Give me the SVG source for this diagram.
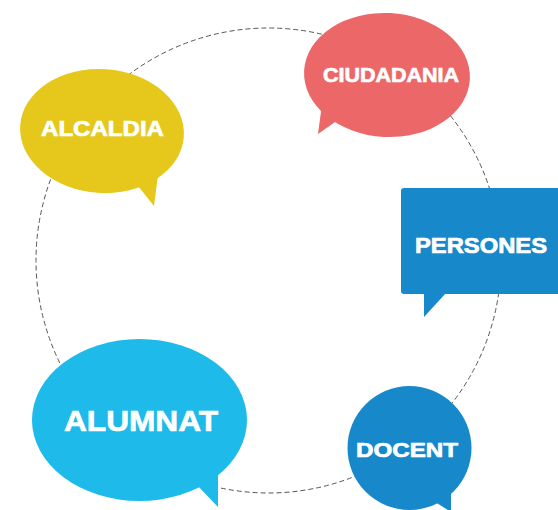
<svg xmlns="http://www.w3.org/2000/svg" width="558" height="510" viewBox="0 0 558 510">
<style>
.lbl{font-family:"Liberation Sans",Arial,sans-serif;font-weight:bold;fill:#ffffff;stroke:#ffffff;stroke-width:0.7;text-anchor:middle}
.ring{fill:none;stroke:#555555;stroke-width:1;stroke-dasharray:5 3}
</style>
<rect width="558" height="510" fill="#ffffff"/>
<g id="connectors">
<circle class="ring" cx="268.5" cy="260.5" r="232.5"/>
</g>
<g id="alcaldia">
<ellipse cx="102" cy="131" rx="82" ry="62" transform="rotate(4 102 131)" fill="#E6C81C"/>
<polygon points="138,186 154,206 158,175" fill="#E6C81C"/>
<text class="lbl" x="102.5" y="136" font-size="22" textLength="123" lengthAdjust="spacingAndGlyphs">ALCALDIA</text>
</g>
<g id="ciudadania">
<ellipse cx="387" cy="75" rx="83" ry="62" transform="rotate(3 387 75)" fill="#EC6868"/>
<polygon points="322,104 318,134 338,120" fill="#EC6868"/>
<text class="lbl" x="391" y="82" font-size="21" textLength="136" lengthAdjust="spacingAndGlyphs">CIUDADANIA</text>
</g>
<g id="persones">
<rect x="401" y="188" width="162" height="106" rx="3" fill="#1789CA"/>
<polygon points="424,293 424,317 446,293" fill="#1789CA"/>
<text class="lbl" x="481" y="253" font-size="22" textLength="132" lengthAdjust="spacingAndGlyphs">PERSONES</text>
</g>
<g id="alumnat">
<ellipse cx="139.5" cy="420" rx="107.5" ry="81" fill="#1DBAEA"/>
<polygon points="196,484 218,507 218,470" fill="#1DBAEA"/>
<text class="lbl" x="141" y="431" font-size="30" textLength="154" lengthAdjust="spacingAndGlyphs">ALUMNAT</text>
</g>
<g id="docent">
<circle cx="409.5" cy="448" r="62" fill="#1789CA"/>
<polygon points="432,500 451,512 451,490" fill="#1789CA"/>
<text class="lbl" x="407" y="457" font-size="21" textLength="102" lengthAdjust="spacingAndGlyphs">DOCENT</text>
</g>
</svg>
